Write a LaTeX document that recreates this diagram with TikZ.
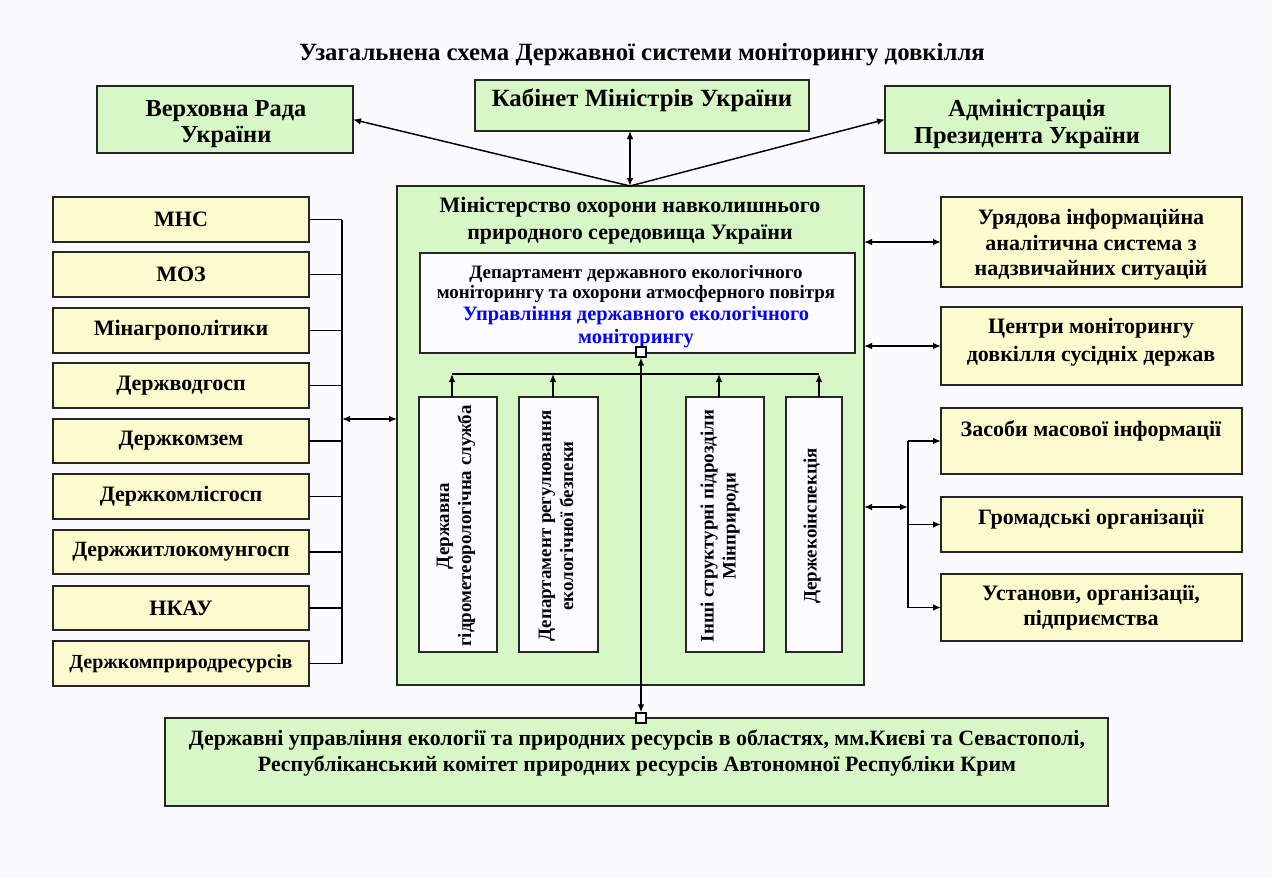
\documentclass[tikz,border=0pt]{standalone}
\usepackage{fontspec}
\setmainfont{Liberation Serif}
\usetikzlibrary{arrows.meta}
\definecolor{bgc}{RGB}{251,250,254}
\definecolor{grn}{RGB}{216,247,198}
\definecolor{ylw}{RGB}{252,251,206}
\definecolor{wht}{RGB}{252,251,255}
\definecolor{blu}{RGB}{0,0,255}
\newcommand\mybox[6]{\node[#1, minimum width={(#4-#2)*0.75pt}, minimum height={(#5-#3)*0.75pt}] (#6) at ({(#2+#4)/2},{(#3+#5)/2}) {};}
\newcommand\fz[2]{\fontsize{#1pt}{#2pt}\selectfont\bfseries}
\tikzset{
  boxbase/.style={draw=black!85, line width=1.4pt, inner sep=0pt, outer sep=0pt},
  gbox/.style={boxbase, fill=grn},
  ybox/.style={boxbase, fill=ylw},
  wbox/.style={boxbase, fill=wht, line width=1.2pt},
  txt/.style={inner sep=0pt, align=center},
  con/.style={line width=1.1pt},
  arr/.style={con, -{Latex[length=6pt,width=5pt]}},
  dbl/.style={con, {Latex[length=6pt,width=5pt]}-{Latex[length=6pt,width=5pt]}},
  sq/.style={draw, line width=1pt, fill=white, minimum size=7.5pt, inner sep=0pt},
}
\begin{document}
\begin{tikzpicture}[x=0.75pt,y=-0.75pt]
\useasboundingbox (0,0) rectangle (1272,879);
\fill[bgc] (0,0) rectangle (1272,879);

\node[txt, font=\fz{18.6}{20}] (title) at (642,55) {Узагальнена схема Державної системи моніторингу довкілля};

% top boxes
\mybox{gbox}{97}{86}{353}{153}{VR}
\mybox{gbox}{475}{80}{809}{131}{KM}
\mybox{gbox}{885}{86}{1170}{153}{AP}
\node[txt, font=\fz{18.3}{20}] (VRt) at (226,124) {Верховна Рада\\України};
\node[txt, font=\fz{18.6}{20}] (KMt) at (642,100) {Кабінет Міністрів України};
\node[txt, font=\fz{18.3}{20}] (APt) at (1027,124) {Адміністрація\\Президента України};

% ministry
\mybox{gbox}{397}{186}{864}{685}{MIN}
\node[txt, font=\fz{16.5}{20}] (MINt) at (630,221) {Міністерство охорони навколишнього\\природного середовища України};
\mybox{wbox}{420}{253}{855}{353}{DEP}
\node[txt, font=\fz{14.2}{15}] (DEPt) at (636,284) {Департамент державного екологічного\\моніторингу та охорони атмосферного повітря};
\node[txt, font=\fz{15.3}{17}, text=blu] (DEPb) at (636,327) {Управління державного екологічного\\моніторингу};

% vertical boxes
\mybox{wbox}{419}{397}{497}{652}{V1}
\mybox{wbox}{519}{397}{598}{652}{V2}
\mybox{wbox}{686}{397}{764}{652}{V3}
\mybox{wbox}{786}{397}{842}{652}{V4}
\node[txt, rotate=90, font=\fz{14.2}{16.5}] (V1t) at (456,526) {Державна\\гідрометеорологічна служба};
\node[txt, rotate=90, font=\fz{14.2}{16.5}] (V2t) at (556,526) {Департамент регулювання\\екологічної безпеки};
\node[txt, rotate=90, font=\fz{14.2}{16.5}] (V3t) at (720,526) {Інші структурні підрозділи\\Мінприроди};
\node[txt, rotate=90, font=\fz{14.2}{16.5}] (V4t) at (812,526) {Держекоінспекція};

% left boxes
\mybox{ybox}{53}{197}{309}{242}{L1}
\mybox{ybox}{53}{252}{309}{297}{L2}
\mybox{ybox}{53}{308}{309}{353}{L3}
\mybox{ybox}{53}{363}{309}{408}{L4}
\mybox{ybox}{53}{419}{309}{463}{L5}
\mybox{ybox}{53}{474}{309}{519}{L6}
\mybox{ybox}{53}{530}{309}{574}{L7}
\mybox{ybox}{53}{586}{309}{630}{L8}
\mybox{ybox}{53}{641}{309}{686}{L9}
\node[txt, font=\fz{16.5}{19}] (L1t) at (L1) {МНС};
\node[txt, font=\fz{16.5}{19}] (L2t) at (L2) {МОЗ};
\node[txt, font=\fz{16.5}{19}] (L3t) at (L3) {Мінагрополітики};
\node[txt, font=\fz{16.5}{19}] (L4t) at (L4) {Держводгосп};
\node[txt, font=\fz{16.5}{19}] (L5t) at (L5) {Держкомзем};
\node[txt, font=\fz{16.5}{19}] (L6t) at (L6) {Держкомлісгосп};
\node[txt, font=\fz{16.3}{19}] (L7t) at (L7) {Держжитлокомунгосп};
\node[txt, font=\fz{16.5}{19}] (L8t) at (L8) {НКАУ};
\node[txt, font=\fz{15}{16}] (L9t) at (L9) {Держкомприродресурсів};

% right boxes
\mybox{ybox}{941}{197}{1242}{287}{R1}
\mybox{ybox}{941}{307}{1242}{385}{R2}
\mybox{ybox}{941}{408}{1242}{474}{R3}
\mybox{ybox}{941}{497}{1242}{552}{R4}
\mybox{ybox}{941}{574}{1242}{641}{R5}
\node[txt, font=\fz{16.5}{19}] (R1t) at (1091,245) {Урядова інформаційна\\аналітична система з\\надзвичайних ситуацій};
\node[txt, font=\fz{16.5}{21}] (R2t) at (1091,342) {Центри моніторингу\\довкілля сусідніх держав};
\node[txt, font=\fz{16.5}{19}] (R3t) at (1091,431) {Засоби масової інформації};
\node[txt, font=\fz{16.5}{19}] (R4t) at (1091,519) {Громадські організації};
\node[txt, font=\fz{16.5}{19}] (R5t) at (1091,608) {Установи, організації,\\підприємства};

% bottom box
\mybox{gbox}{165}{718}{1108}{806}{BOT}
\node[txt, font=\fz{16.4}{20}] (BOTt) at (637,753) {Державні управління екології та природних ресурсів в областях, мм.Києві та Севастополі,\\Республіканський комітет природних ресурсів Автономної Республіки Крим};

% top connectors
\coordinate (conv) at (630,186);
\draw[arr] (conv) -- (VR.east);
\draw[arr] (conv) -- (AP.west);
\draw[dbl] (conv |- KM.south) -- (conv);

% left bus
\coordinate (lbT) at (342,219.5);
\coordinate (lbB) at (342,663.5);
\coordinate (lbA) at (342,419);
\draw[con] (lbT) -- (lbB);
\foreach \i in {1,...,9} { \draw[con] (L\i.east) -- (L\i.east -| lbT); }
\draw[dbl] (lbA) -- (lbA -| MIN.west);

% right connectors
\draw[dbl] (MIN.east |- R1.west) -- (R1.west);
\draw[dbl] (MIN.east |- R2.west) -- (R2.west);
\coordinate (rb) at (908,507);
\draw[dbl] (rb -| MIN.east) -- (rb);
\draw[con] (rb |- R3.west) -- (rb |- R5.west);
\draw[arr] (rb |- R3.west) -- (R3.west);
\draw[arr] (rb |- R4.west) -- (R4.west);
\draw[arr] (rb |- R5.west) -- (R5.west);

% inner bus
\coordinate (a1) at (452,374);
\coordinate (a2) at (553,374);
\coordinate (a3) at (719,374);
\coordinate (a4) at (819,374);
\draw[con] (a1) -- (a4);
\draw[arr] (V1.north -| a1) -- (a1);
\draw[arr] (V2.north -| a2) -- (a2);
\draw[arr] (V3.north -| a3) -- (a3);
\draw[arr] (V4.north -| a4) -- (a4);

% central line with squares
\node[sq] (sqT) at (641,352) {};
\node[sq] (sqB) at (641,718) {};
\draw[dbl] (sqT.south) -- (sqB.north);
\end{tikzpicture}
\end{document}
